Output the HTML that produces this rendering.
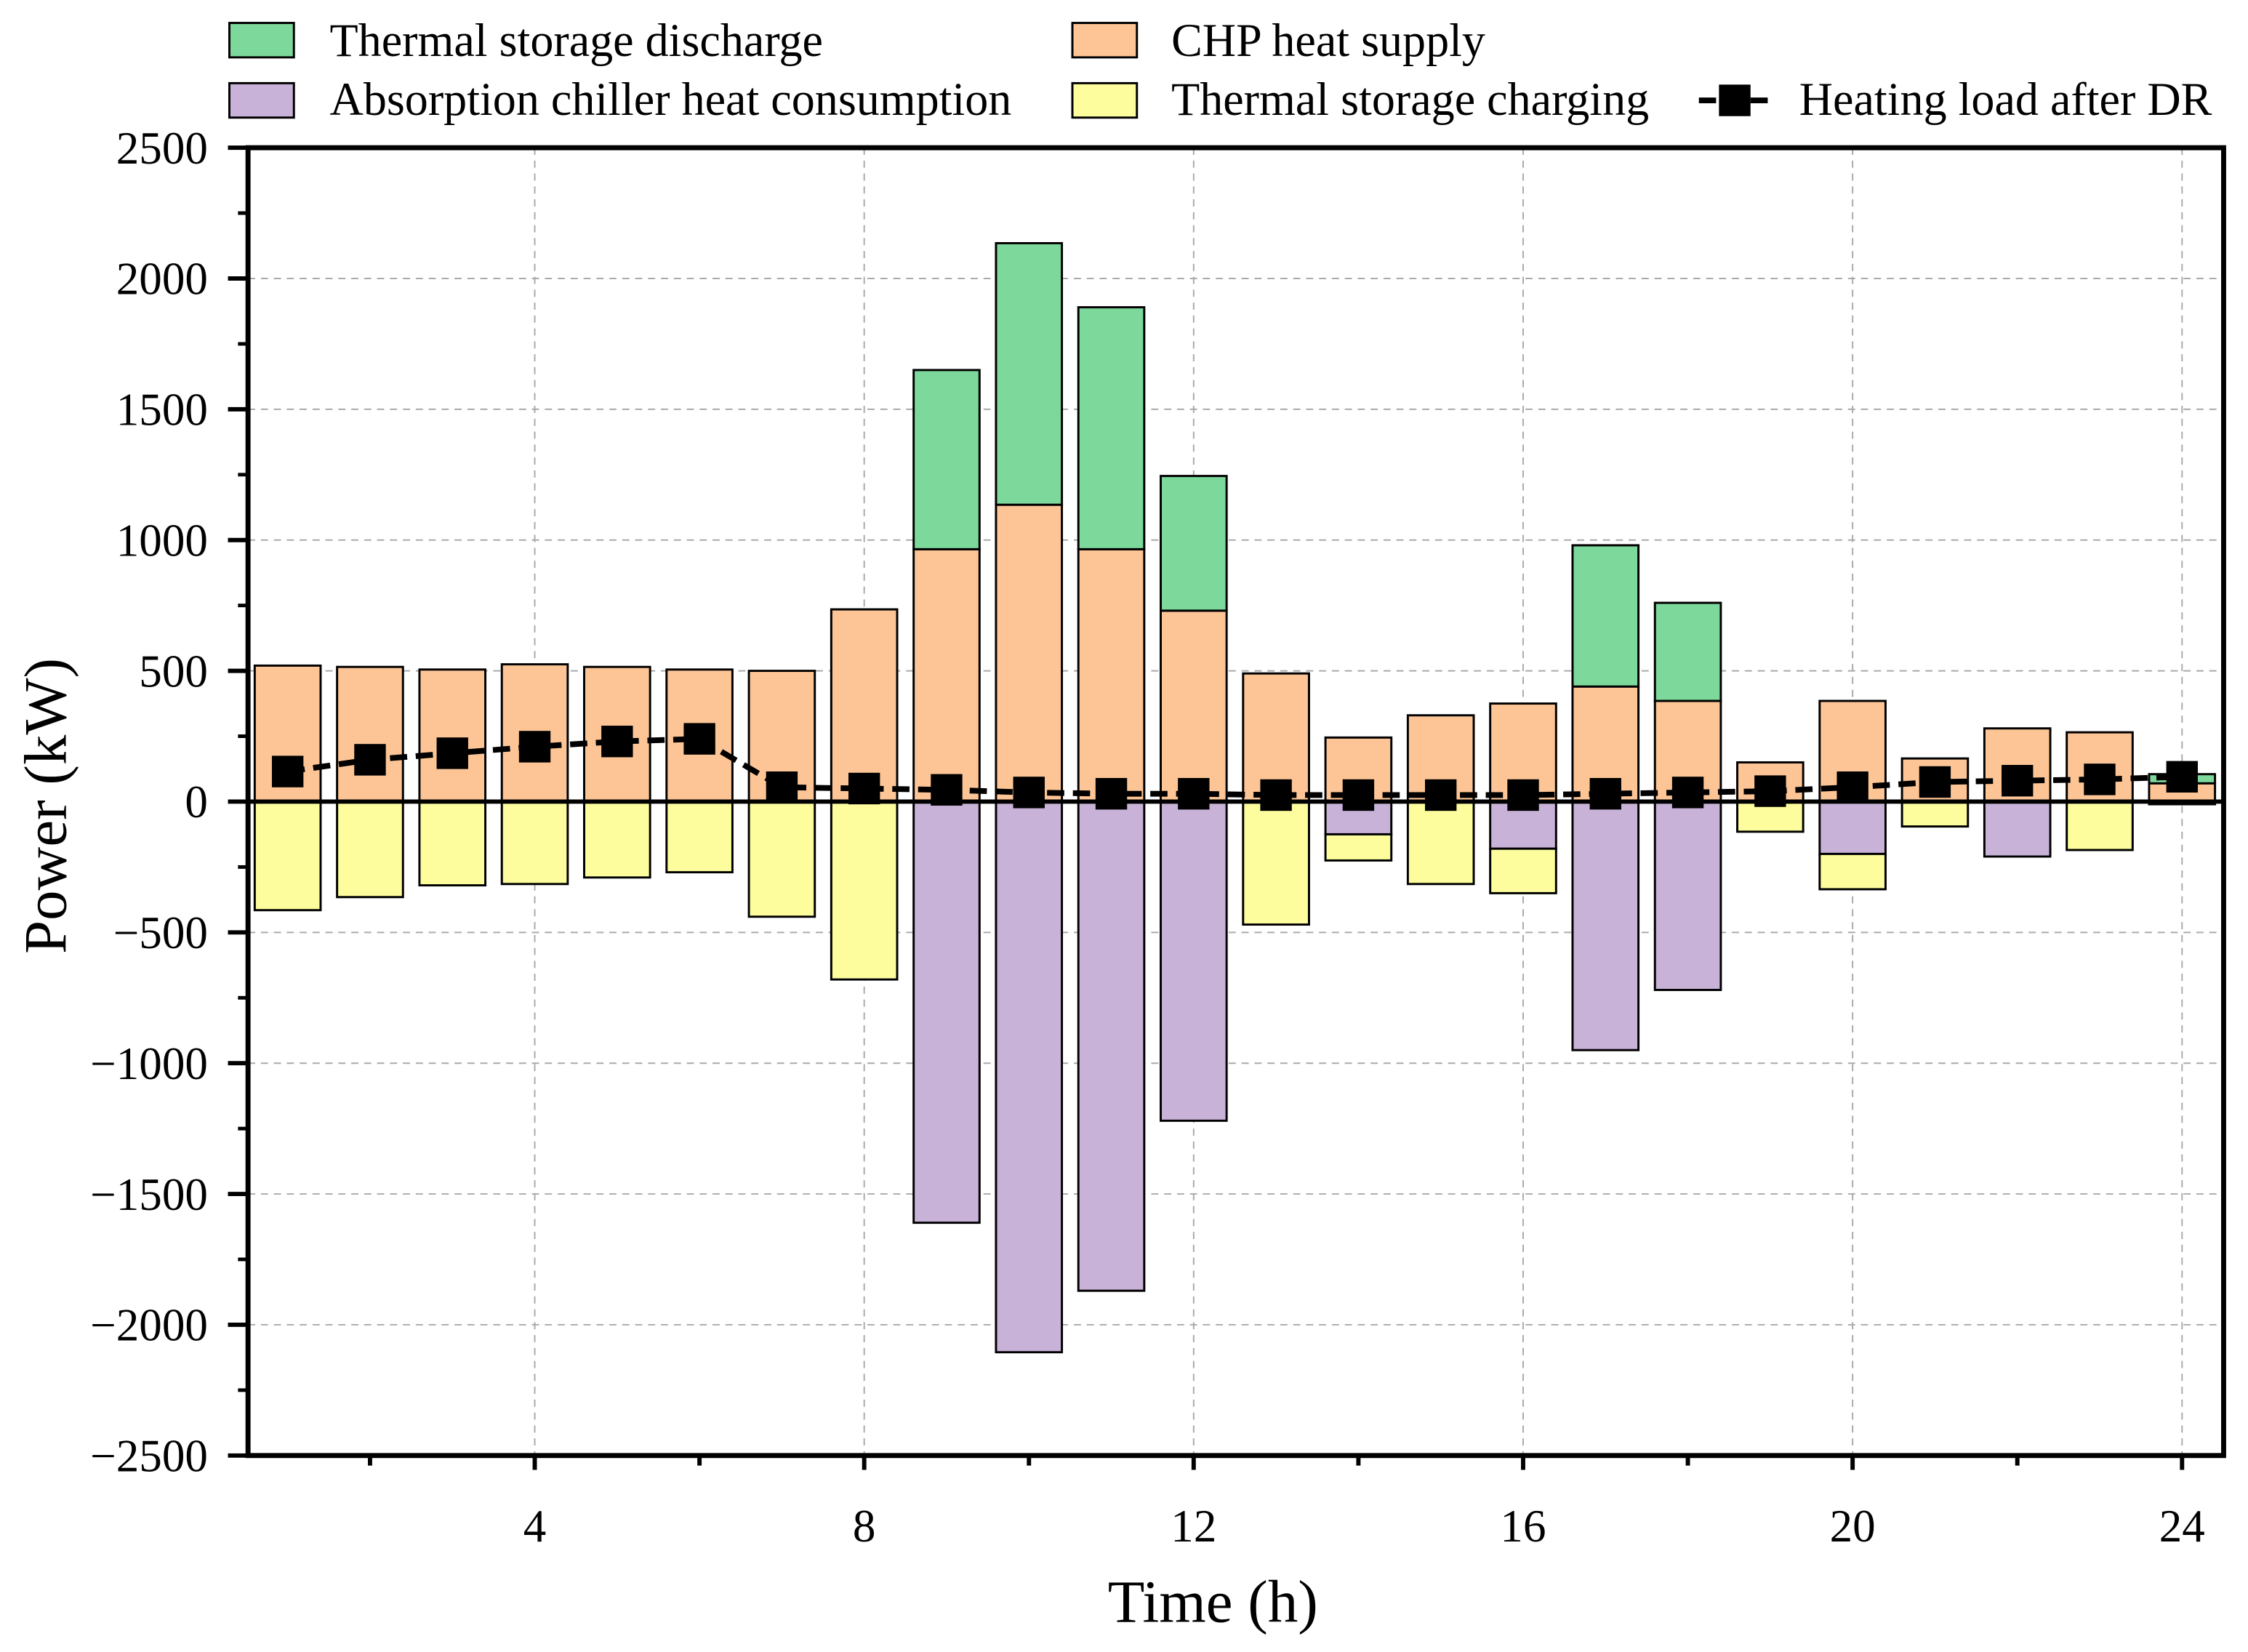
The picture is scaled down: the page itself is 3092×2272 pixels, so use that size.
<!DOCTYPE html>
<html><head><meta charset="utf-8"><style>
html,body{margin:0;padding:0;background:#fff;}
svg{display:block;font-family:"Liberation Serif",serif;}
</style></head><body>
<svg id="chart" width="3092" height="2272" viewBox="0 0 1568 1152" preserveAspectRatio="none" xmlns="http://www.w3.org/2000/svg">
<g id="grid"></g><g id="bars"></g><g id="axes"></g><g id="line"></g>
<g id="legend">
 <rect x="160" y="16" width="45" height="24" fill="#7dd89b" stroke="#000" stroke-width="1.5"/>
 <text x="230" y="39" font-size="32.5">Thermal storage discharge</text>
 <rect x="748" y="16" width="45" height="24" fill="#fdc596" stroke="#000" stroke-width="1.5"/>
 <text x="817" y="39" font-size="32.5">CHP heat supply</text>
 <rect x="160" y="58" width="45" height="24" fill="#c8b2d8" stroke="#000" stroke-width="1.5"/>
 <text x="230" y="80" font-size="32.5">Absorption chiller heat consumption</text>
 <rect x="748" y="58" width="45" height="24" fill="#fdfd9d" stroke="#000" stroke-width="1.5"/>
 <text x="817" y="80" font-size="32.5">Thermal storage charging</text>
 <line x1="1185" y1="70" x2="1235" y2="70" stroke="#000" stroke-width="4" stroke-dasharray="12,6"/>
 <rect x="1199" y="59" width="22" height="22" fill="#000"/>
 <text x="1255" y="80" font-size="32.5">Heating load after DR</text>
</g>
<text transform="translate(46,562) rotate(-90)" text-anchor="middle" font-size="42">Power (kW)</text>
<text x="846" y="1131" text-anchor="middle" font-size="42">Time (h)</text>
</svg>
<script>
const hours=[1,2,3,4,5,6,7,8,9,10,11,12,13,14,15,16,17,18,19,20,21,22,23,24];
const chpSupply=[520,515,505,525,515,505,500,735,965,1135,965,730,490,245,330,375,440,385,150,385,165,280,265,70];
const storageDischarge=[0,0,0,0,0,0,0,0,685,1000,925,515,0,0,0,0,540,375,0,0,0,0,0,35];
const absorptionUse=[0,0,0,0,0,0,0,0,-1610,-2105,-1870,-1220,0,-125,0,-180,-950,-720,0,-200,0,-210,0,0];
const storageCharging=[-415,-365,-320,-315,-290,-270,-440,-680,0,0,0,0,-470,-100,-315,-170,0,0,-115,-135,-95,0,-185,-10];
const heatingLoad=[115,160,185,210,230,240,55,50,45,35,30,30,25,25,25,25,30,35,40,55,75,80,85,95];
const yTicks=[-2500,-2000,-1500,-1000,-500,0,500,1000,1500,2000,2500];
const xTickLabels=[4,8,12,16,20,24];

const NS="http://www.w3.org/2000/svg";
const L=173,R=1551,T=103,B=1015;
const X=h=>373+(h-4)*57.45;
const Y=v=>559-v*(B-559)/2500;
function mk(tag,attrs,parent){const e=document.createElementNS(NS,tag);for(const k in attrs)e.setAttribute(k,attrs[k]);parent.appendChild(e);return e;}
const grid=document.getElementById('grid'),bars=document.getElementById('bars'),axes=document.getElementById('axes'),line=document.getElementById('line');
yTicks.forEach(v=>{if(v===2500||v===-2500||v===0)return;
 const g=mk('line',{x1:L,x2:R,y1:Y(v),y2:Y(v),stroke:'#aaa','stroke-width':1,'stroke-dasharray':'5,4'},grid);
 
 });
xTickLabels.forEach(h=>{const g=mk('line',{x1:X(h),x2:X(h),y1:T,y2:B,stroke:'#aaa','stroke-width':1,'stroke-dasharray':'5,4'},grid);
 
 });
const bw=0.8*57.45;
function bar(h,y0,y1,fill,name){if(y0===y1)return;const r=mk('rect',{x:X(h)-bw/2,y:Math.min(Y(y0),Y(y1)),width:bw,height:Math.abs(Y(y0)-Y(y1)),fill:fill,stroke:'#000','stroke-width':1.5},bars);
 
 }
hours.forEach((h,i)=>{
 bar(h,0,chpSupply[i],'#fdc596','bar-chp-'+h);
 bar(h,chpSupply[i],chpSupply[i]+storageDischarge[i],'#7dd89b','bar-discharge-'+h);
 bar(h,0,absorptionUse[i],'#c8b2d8','bar-absorption-'+h);
 bar(h,absorptionUse[i],absorptionUse[i]+storageCharging[i],'#fdfd9d','bar-charging-'+h);
});
const zl=mk('line',{x1:L,x2:R,y1:Y(0),y2:Y(0),stroke:'#000','stroke-width':3},axes);


const frame=mk('rect',{x:L,y:T,width:R-L,height:B-T,fill:'none',stroke:'#000','stroke-width':3.5},axes);


yTicks.forEach(v=>{mk('line',{x1:L-14,x2:L,y1:Y(v),y2:Y(v),stroke:'#000','stroke-width':3},axes);
 const t=mk('text',{x:L-28,y:Y(v)+11,'text-anchor':'end','font-size':32},axes);t.textContent=(v<0?'\u2212'+(-v):v);
 
 });
for(let v=-2250;v<2500;v+=500)mk('line',{x1:L-7,x2:L,y1:Y(v),y2:Y(v),stroke:'#000','stroke-width':2.5},axes);
for(let h=2;h<=24;h+=2)mk('line',{x1:X(h),x2:X(h),y1:B,y2:B+(h%4===0?10:7),stroke:'#000','stroke-width':3},axes);
xTickLabels.forEach(h=>{const t=mk('text',{x:X(h),y:B+60,'text-anchor':'middle','font-size':32},axes);t.textContent=h;
 
 });
const pts=hours.map((h,i)=>X(h)+','+Y(heatingLoad[i])).join(' ');
const pl=mk('polyline',{points:pts,fill:'none',stroke:'#000','stroke-width':4,'stroke-dasharray':'12,6'},line);


hours.forEach((h,i)=>{const m=mk('rect',{x:X(h)-11,y:Y(heatingLoad[i])-11,width:22,height:22,fill:'#000'},line);
 
 });
</script>
</body></html>
